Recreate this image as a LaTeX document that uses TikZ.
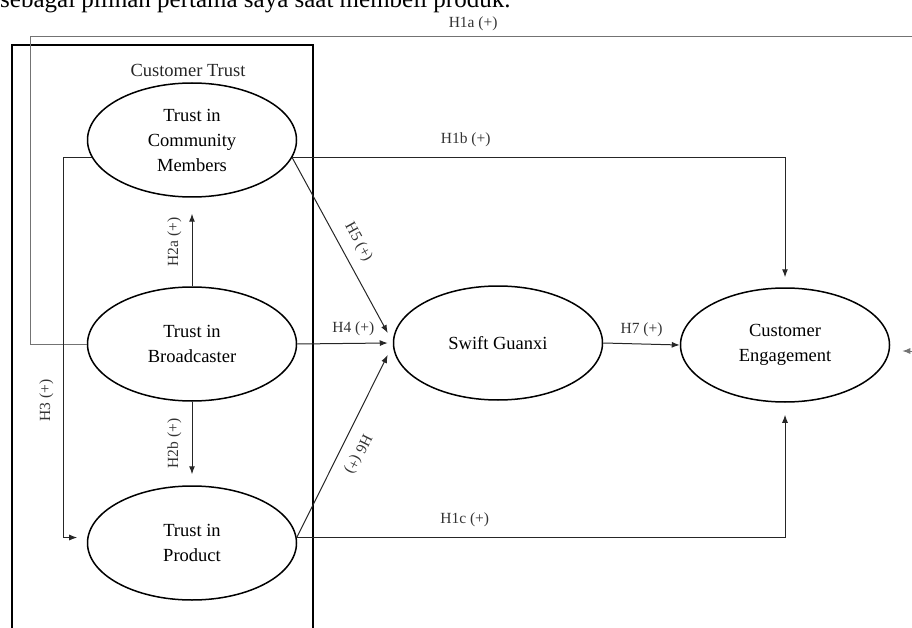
\documentclass[tikz,border=0pt]{standalone}
\usepackage{fontspec}
\setmainfont{Liberation Serif}
\usetikzlibrary{arrows.meta,shapes.geometric}
\tikzset{%
    >={Latex[length=8pt,width=6pt]},
    construct/.style={ellipse, draw, line width=1.5pt, minimum width=209pt,
      minimum height=114pt, inner sep=0pt, align=center,
      font=\fontsize{18.5}{25}\selectfont},
    link/.style={line width=1pt, draw=black!85},
    hyp/.style={font=\fontsize{15.5}{18}\selectfont, inner sep=2pt, text=black!80}
}

\begin{document}
\begin{tikzpicture}[x=1pt,y=-1pt]
      \useasboundingbox (0,0) rectangle (912,628);
      \clip (0,0) rectangle (912,628);

      \node[anchor=base east, font=\fontsize{25}{30}\selectfont] (prevline) at (514,8)
        {sebagai pilihan pertama saya saat membeli produk.};

      \draw[line width=2.2pt] (12,45) rectangle (313,660);
      \node[font=\fontsize{18.5}{22}\selectfont, text=black!85] (trustlbl) at (188,70) {Customer Trust};

      \node[construct] (tcm) at (192,140) {Trust in\\Community\\Members};
      \node[construct] (tb) at (192,344) {Trust in\\Broadcaster};
      \node[construct] (tp) at (192,543) {Trust in\\Product};
      \node[construct] (sg) at (498,343) {Swift Guanxi};
      \node[construct] (ce) at (785,345) {Customer\\Engagement};

      \coordinate (h1atop) at (30,37);
      \coordinate (h1aright) at (940,37);
      \coordinate (h1aend) at ([shift={(12,6)}]ce.east);

      \draw[link,draw=black!55,->] (tb.west) -| (h1atop)
        -- node[hyp, pos=0.487, above=4pt] (h1a) {H1a (+)} (h1aright) |- (h1aend);
      \draw[link,->,shorten >=10pt] (tcm.-10) -| node[hyp, pos=0.176, above=8pt] (h1b) {H1b (+)} (ce.north);
      \draw[link,->,shorten >=12pt] (tp.3) -| node[hyp, pos=0.172, above=8pt] (h1c) {H1c (+)} (ce.south);

      \draw[link,->,shorten >=16pt] (tb.north) -- node[hyp, rotate=90, above=8pt] (h2a) {H2a (+)} (tcm.south);
      \draw[link,->,shorten >=11pt] (tb.south) -- node[hyp, rotate=90, above=8pt] (h2b) {H2b (+)} (tp.north);
      \draw[link,->,shorten >=10pt] (tcm.190) -- ++(-28,0)
        |- node[hyp, pos=0.32, rotate=90, above=8pt] (h3) {H3 (+)} (tp.177);

      \draw[link,->] (tb.east) -- node[hyp, pos=0.62, above=5pt] (h4) {H4 (+)} ([xshift=-5pt]sg.west);
      \draw[link,->] (tcm.-10) -- node[hyp, sloped, pos=0.53, above=8pt] (h5) {H5 (+)} ([shift={(-5,-10)}]sg.west);
      \draw[link,<-] ([shift={(-5,12)}]sg.west) -- node[hyp, sloped, allow upside down, above=8pt] (h6) {H6 (+)} (tp.3);
      \draw[link,->] (sg.east) -- node[hyp, above=5pt] (h7) {H7 (+)} (ce.west);
    \end{tikzpicture}
\end{document}
